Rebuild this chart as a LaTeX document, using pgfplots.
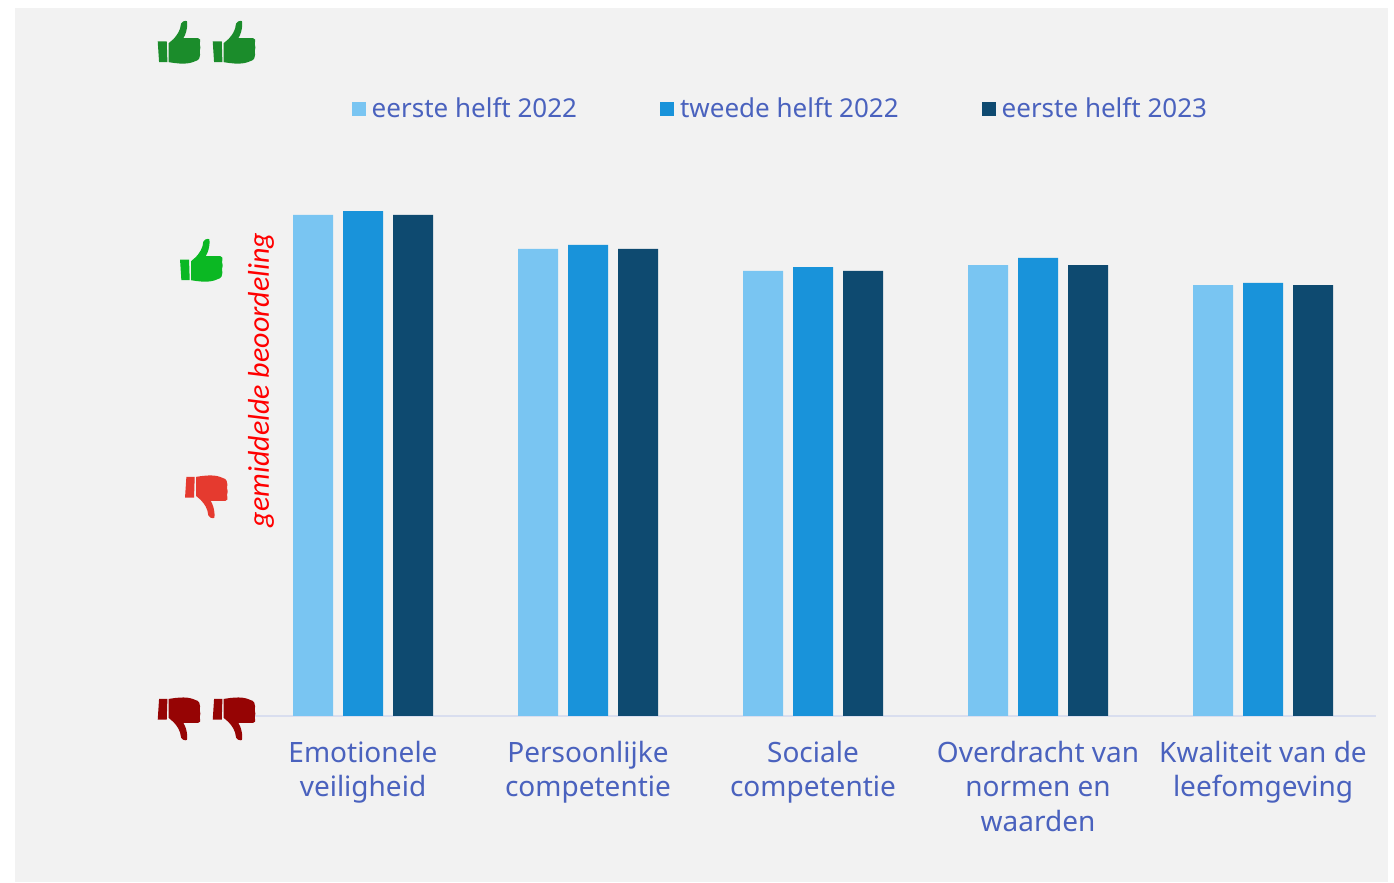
\documentclass[border=0pt]{standalone}
\usepackage{fontspec}
\setmainfont{Noto Sans}
\newfontfamily\ylab{Carlito}
\usepackage{pgfplots}
\pgfplotsset{compat=1.18}
\definecolor{panel}{HTML}{F2F2F2}
\definecolor{ca}{HTML}{79C5F2}
\definecolor{cb}{HTML}{1993DA}
\definecolor{cc}{HTML}{0E4A70}
\definecolor{txt}{HTML}{4A62BE}
\definecolor{axl}{HTML}{D9DEEF}
\definecolor{tuu}{HTML}{1B8C2B}
\definecolor{tu}{HTML}{0BB823}
\definecolor{td}{HTML}{E53A2F}
\definecolor{tdd}{HTML}{960404}
% #1 colour, #2 left px, #3 top px, #4 up(1) or down(-1)
\newcommand\thumb[4]{%
 \begin{scope}[x=0.1667pt,y=0.1667pt,shift={(#2*3,{(883-#3)*3})}]
 \begin{scope}[yshift={#4==1?0pt:-21.67pt},yscale=#4]
 \fill[#1] (0,-62) -- (27,-62) -- (29,-124) -- (4,-124) -- cycle;
 \fill[#1] (33,-67) -- (47,-55) .. controls (58,-43) and (68,-30) .. (70,-8)
   .. controls (72,-1) and (80,-1) .. (84,0) .. controls (90,8) and (92,-28) .. (77,-52)
   -- (121,-52) .. controls (128,-52) and (128,-57) .. (126,-70)
   -- (128,-80) -- (126,-90) -- (127,-102) .. controls (126,-112) and (124,-115) .. (120,-118)
   .. controls (100,-127) and (85,-133) .. (33,-124) -- cycle;
 \end{scope}
 \end{scope}}
\begin{document}
\begin{tikzpicture}[font=\fontsize{14pt}{17.25pt}\selectfont]
\path[use as bounding box] (0,0) rectangle (697pt,441.5pt);
\fill[white] (0,0) rectangle (697pt,441.5pt);
\fill[panel] (7.5pt,0.5pt) rectangle (694pt,437.5pt);
\begin{axis}[
 at={(125.25pt,83.5pt)}, anchor=south west,
 scale only axis, width=562.5pt, height=336pt,
 xmin=-0.5, xmax=4.5, ymin=1, ymax=4,
 clip=false,
 ybar=5pt, bar width=20pt,
 axis y line=none, axis x line*=bottom,
 axis line style={draw=axl,line width=1pt,-},
 xtick={0,1,2,3,4},
 xticklabels={{Emotionele\\veiligheid},{Persoonlijke\\competentie},{Sociale\\competentie},{Overdracht van\\normen en\\waarden},{Kwaliteit van de\\leefomgeving}},
 xticklabel style={align=center,text=txt,font=\fontsize{14pt}{17.25pt}\selectfont,yshift=-9pt},
 major tick length=0pt,
 legend columns=3,
 legend style={at={(0.09,0.903)},anchor=west,draw=none,fill=none,inner sep=0pt,outer sep=0pt,
   text=txt,font=\fontsize{13pt}{17.25pt}\selectfont,
   /tikz/every even column/.append style={column sep=38.5pt},
   nodes={inner xsep=3pt,inner ysep=0pt}},
 legend image code/.code={\fill[#1] (0pt,-3.5pt) rectangle (7pt,3.5pt);},
 legend cell align=left,
]
\addplot[fill=ca,draw=none] coordinates {(0,3.237)(1,3.085)(2,2.987)(3,3.013)(4,2.924)};
\addplot[fill=cb,draw=none] coordinates {(0,3.254)(1,3.103)(2,3.004)(3,3.045)(4,2.933)};
\addplot[fill=cc,draw=none] coordinates {(0,3.237)(1,3.085)(2,2.987)(3,3.013)(4,2.924)};
\legend{eerste helft 2022,tweede helft 2022,eerste helft 2023}
\end{axis}
\node[rotate=90,text=red,font=\ylab\itshape\fontsize{15pt}{16pt}\selectfont,anchor=center] at (130.5pt,251.5pt) {gemiddelde beoordeling};
\thumb{tuu}{157.7}{21}{1}
\thumb{tuu}{212.7}{21}{1}
\thumb{tu}{180}{239}{1}
\thumb{td}{185}{475}{-1}
\thumb{tdd}{157.7}{697}{-1}
\thumb{tdd}{212.7}{697}{-1}
\end{tikzpicture}
\end{document}
